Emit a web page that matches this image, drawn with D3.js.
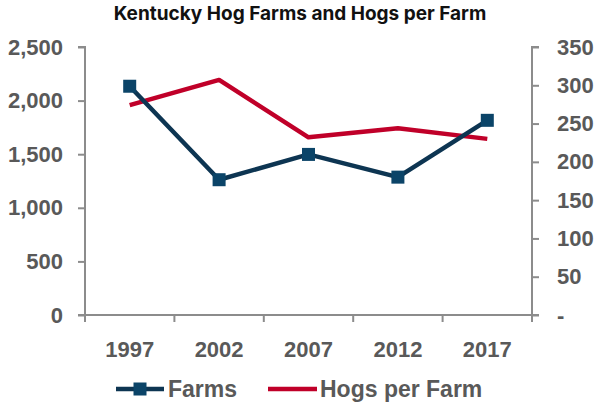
<!DOCTYPE html>
<html>
<head>
<meta charset="utf-8">
<script src="https://cdn.jsdelivr.net/npm/d3@7"></script>
<style>
  body { margin: 0; background: #fff; }
  text { font-family: "Liberation Sans", Arial, sans-serif; font-weight: bold; }
</style>
</head>
<body>
<div id="chart"></div>
<script>
const years = ["1997", "2002", "2007", "2012", "2017"];
const farms = [2134, 1262, 1498, 1286, 1816];
const hogsPerFarm = [274, 307, 232, 244, 230];
const leftTicks = [0, 500, 1000, 1500, 2000, 2500];
const rightTicks = [0, 50, 100, 150, 200, 250, 300, 350];

const width = 600;
const height = 402;
const margin = {left: 85, right: 68, top: 47, bottom: 87};

const navy = "#0d3552";
const navyMarker = "#0b4468";
const red = "#c00029";
const grey = "#595959";
const axisGrey = "#8c8c8c";

const svg = d3.select("#chart")
    .append("svg")
    .attr("width", width)
    .attr("height", height);

const x = d3.scaleBand()
    .domain(years)
    .range([margin.left, width - margin.right]);
const yL = d3.scaleLinear()
    .domain([0, 2500])
    .range([height - margin.bottom, margin.top]);
const yR = d3.scaleLinear()
    .domain([0, 350])
    .range([height - margin.bottom, margin.top]);

// title
svg.append("text")
    .attr("x", 300)
    .attr("y", 20)
    .attr("text-anchor", "middle")
    .attr("font-size", 19)
    .attr("fill", "#111")
    .style("font-family", "Inter, 'Liberation Sans', sans-serif")
    .text("Kentucky Hog Farms and Hogs per Farm");

// left axis
const gL = svg.append("g")
    .attr("transform", `translate(${margin.left},0)`)
    .call(d3.axisLeft(yL).tickValues(leftTicks).tickSize(7).tickPadding(15)
        .tickFormat(d3.format(",")));

// right axis
const gR = svg.append("g")
    .attr("transform", `translate(${width - margin.right},0)`)
    .call(d3.axisRight(yR).tickValues(rightTicks).tickSize(7).tickPadding(18)
        .tickFormat(d => d === 0 ? "-" : d));

// x axis
const gX = svg.append("g")
    .attr("transform", `translate(0,${height - margin.bottom})`)
    .call(d3.axisBottom(x).tickSize(0).tickPadding(26));
gX.selectAll(".xb")
    .data(d3.range(years.length + 1))
    .enter()
    .append("line")
    .attr("x1", i => margin.left + i * x.step())
    .attr("x2", i => margin.left + i * x.step())
    .attr("y1", 0)
    .attr("y2", 7)
    .attr("stroke", axisGrey)
    .attr("stroke-width", 2);

[gL, gR, gX].forEach(g => {
    g.select(".domain").attr("stroke", axisGrey).attr("stroke-width", 2);
    g.selectAll(".tick line").attr("stroke", axisGrey).attr("stroke-width", 2);
    g.selectAll(".tick text").attr("fill", grey).attr("font-size", 22);
});
gL.select(".domain").attr("d", `M-7,${yL(2500)}H0V${yL(0)}H-7`);
gR.select(".domain").attr("d", `M7,${yR(350)}H0V${yR(0)}H7`);
gR.selectAll(".tick text").attr("text-anchor", "start");
gX.select(".domain").attr("d", `M${margin.left},0H${width - margin.right}`);

const cx = d => x(d) + x.bandwidth() / 2;

// hogs per farm line
svg.append("path")
    .datum(years.map((d, i) => [d, hogsPerFarm[i]]))
    .attr("fill", "none")
    .attr("stroke", red)
    .attr("stroke-width", 4.5)
    .attr("stroke-linejoin", "round")
    .attr("d", d3.line().x(d => cx(d[0])).y(d => yR(d[1])));

// farms line
svg.append("path")
    .datum(years.map((d, i) => [d, farms[i]]))
    .attr("fill", "none")
    .attr("stroke", navy)
    .attr("stroke-width", 4.5)
    .attr("stroke-linejoin", "round")
    .attr("d", d3.line().x(d => cx(d[0])).y(d => yL(d[1])));

svg.append("g")
    .selectAll("rect")
    .data(years.map((d, i) => [d, farms[i]]))
    .enter()
    .append("rect")
    .attr("x", d => cx(d[0]) - 6.5)
    .attr("y", d => yL(d[1]) - 6.5)
    .attr("width", 13)
    .attr("height", 13)
    .attr("fill", navyMarker);

// legend
const leg = svg.append("g").attr("transform", "translate(0,389)");
leg.append("line").attr("x1", 116).attr("x2", 164).attr("y1", 0).attr("y2", 0)
    .attr("stroke", navy).attr("stroke-width", 4.5);
leg.append("rect").attr("x", 133.5).attr("y", -6.5).attr("width", 13).attr("height", 13)
    .attr("fill", navyMarker);
leg.append("text").attr("x", 168).attr("y", 8).attr("font-size", 23).attr("fill", grey)
    .text("Farms");
leg.append("line").attr("x1", 268).attr("x2", 317).attr("y1", 0).attr("y2", 0)
    .attr("stroke", red).attr("stroke-width", 4.5);
leg.append("text").attr("x", 320).attr("y", 8).attr("font-size", 23).attr("fill", grey)
    .text("Hogs per Farm");
</script>
</body>
</html>
